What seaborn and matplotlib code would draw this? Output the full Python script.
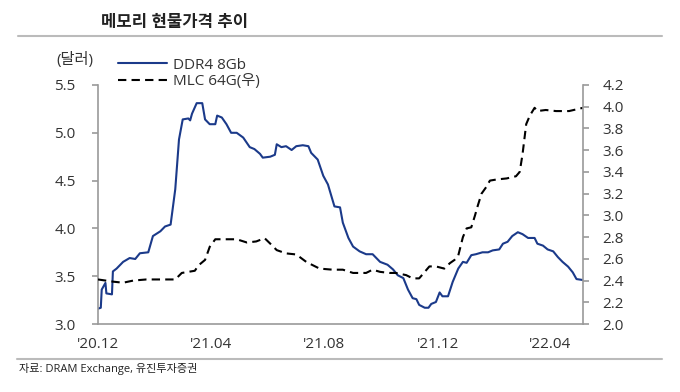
import pandas as pd
import seaborn as sns
import matplotlib.pyplot as plt
from matplotlib.lines import Line2D

# data (days counted from 2020-12-01)
start = "2020-12-01"
ddr4_days = [0, 3, 4, 8, 9, 15, 16, 20, 27, 34, 40, 45, 54, 59, 67, 72, 78, 83, 87, 91,
             97, 99, 101, 106, 112, 115, 120, 126, 128, 133, 138, 143, 149, 156, 163, 168,
             174, 177, 185, 190, 192, 197, 202, 208, 213, 220, 226, 229, 236, 242, 247,
             254, 260, 263, 269, 274, 281, 288, 295, 303, 311, 317, 322, 328, 333, 338,
             342, 345, 351, 355, 358, 363, 367, 370, 376, 381, 387, 392, 396, 401, 406,
             413, 419, 424, 431, 435, 440, 445, 451, 456, 462, 469, 472, 478, 483, 489,
             494, 499, 505, 510, 514, 521]
ddr4 = [3.16, 3.17, 3.36, 3.43, 3.32, 3.31, 3.55, 3.58, 3.65, 3.69, 3.68, 3.74, 3.75, 3.92,
        3.97, 4.02, 4.04, 4.41, 4.93, 5.14, 5.15, 5.13, 5.20, 5.31, 5.31, 5.14, 5.09, 5.09,
        5.18, 5.16, 5.09, 5.00, 5.00, 4.95, 4.85, 4.83, 4.78, 4.74, 4.75, 4.77, 4.88, 4.85,
        4.86, 4.82, 4.86, 4.87, 4.86, 4.79, 4.72, 4.55, 4.46, 4.23, 4.22, 4.06, 3.90, 3.81,
        3.76, 3.73, 3.73, 3.65, 3.62, 3.57, 3.51, 3.48, 3.36, 3.27, 3.26, 3.20, 3.17, 3.17,
        3.21, 3.23, 3.33, 3.29, 3.29, 3.44, 3.58, 3.65, 3.64, 3.72, 3.73, 3.75, 3.75, 3.77,
        3.78, 3.84, 3.86, 3.92, 3.96, 3.94, 3.90, 3.90, 3.84, 3.82, 3.78, 3.76, 3.70, 3.65,
        3.60, 3.54, 3.47, 3.46]

mlc_days = [0, 16, 27, 38, 52, 74, 83, 90, 104, 108, 115, 120, 126, 140, 149, 160, 170,
            179, 185, 192, 202, 213, 224, 238, 252, 263, 274, 288, 295, 303, 313, 320, 331,
            338, 345, 351, 356, 363, 372, 378, 383, 387, 392, 396, 401, 405, 408, 412, 417,
            421, 428, 439, 449, 453, 456, 460, 464, 469, 472, 481, 492, 506, 521]
mlc = [2.41, 2.39, 2.38, 2.40, 2.41, 2.41, 2.41, 2.47, 2.49, 2.54, 2.59, 2.71, 2.78, 2.78,
       2.78, 2.75, 2.76, 2.79, 2.74, 2.68, 2.65, 2.64, 2.57, 2.51, 2.50, 2.50, 2.47, 2.47,
       2.50, 2.48, 2.47, 2.47, 2.45, 2.42, 2.42, 2.48, 2.53, 2.53, 2.51, 2.56, 2.59, 2.63,
       2.80, 2.88, 2.89, 3.00, 3.09, 3.20, 3.26, 3.32, 3.33, 3.34, 3.36, 3.40, 3.56, 3.84,
       3.92, 3.99, 3.96, 3.97, 3.96, 3.96, 3.99]

tick_dates = ["2020-12-01", "2021-04-01", "2021-08-01", "2021-12-01", "2022-04-01"]
tick_labels = ["'20.12", "'21.04", "'21.08", "'21.12", "'22.04"]

t0 = pd.Timestamp(start)
ddr4_df = pd.DataFrame({"date": t0 + pd.to_timedelta(ddr4_days, unit="D"), "price": ddr4})
mlc_df = pd.DataFrame({"date": t0 + pd.to_timedelta(mlc_days, unit="D"), "price": mlc})

sns.set_style("white")
plt.rcParams["font.family"] = ["Open Sans", "Noto Sans CJK KR", "DejaVu Sans"]

navy = "#1b3a8a"
grey = "#9a9a9a"
txt = "#333333"

fig = plt.figure(figsize=(6.8, 3.92), dpi=100)
ax = fig.add_axes([98 / 680, 68 / 392, 485 / 680, 239 / 392])
ax2 = ax.twinx()

sns.lineplot(data=ddr4_df, x="date", y="price", ax=ax, color=navy, linewidth=1.5)
sns.lineplot(data=mlc_df, x="date", y="price", ax=ax2, color="black", linewidth=1.5,
             linestyle="--")
for ln in ax2.get_lines():
    ln.set_dashes([4, 2.5])

ax.set_xlim(t0, t0 + pd.Timedelta(days=521))
ax.set_ylim(3.0, 5.5)
ax2.set_ylim(2.0, 4.2)
ax.set_yticks([3.0, 3.5, 4.0, 4.5, 5.0, 5.5])
ax2.set_yticks([2.0 + 0.2 * i for i in range(12)])
ax.yaxis.set_major_formatter(plt.FormatStrFormatter("%.1f"))
ax2.yaxis.set_major_formatter(plt.FormatStrFormatter("%.1f"))
ax.set_xticks(pd.to_datetime(tick_dates))
ax.set_xticklabels(tick_labels)
ax.set_xlabel("")
ax.set_ylabel("")
ax2.set_ylabel("")

for a in (ax, ax2):
    a.spines["top"].set_visible(False)
    for s in a.spines.values():
        s.set_color(grey)
        s.set_linewidth(1.2)
    a.tick_params(colors=grey, labelcolor=txt, labelsize=11, length=4, width=1.2,
                  direction="out")
ax.spines["right"].set_visible(False)
ax2.spines["left"].set_visible(False)
ax2.spines["bottom"].set_visible(False)
ax.tick_params(axis="y", pad=12)
ax.tick_params(axis="x", pad=5)
ax2.tick_params(axis="y", pad=10)

# legend
handles = [Line2D([], [], color=navy, lw=1.5),
           Line2D([], [], color="black", lw=1.5, dashes=[4, 2.5])]
fig.legend(handles, ["DDR4 8Gb", "MLC 64G(우)"], loc="upper left",
           bbox_to_anchor=(104 / 680, 1 - 44 / 392), frameon=False, fontsize=11,
           handlelength=3.2, handletextpad=0.4, labelspacing=0.1, labelcolor=txt)

fig.text(56 / 680, 1 - 60 / 392, "(달러)", fontsize=11, color=txt, va="center")

# title and frame lines
fig.text(175 / 680, 1 - 22 / 392, "메모리 현물가격 추이", fontsize=12, weight="bold",
         color="#222222", ha="center", va="center")
fig.add_artist(Line2D([18 / 680, 662 / 680], [1 - 35.5 / 392] * 2, color="#bbbbbb", lw=1.5))
fig.add_artist(Line2D([17 / 680, 662 / 680], [1 - 359 / 392] * 2, color="#bbbbbb", lw=1.5))
fig.text(19 / 680, 1 - 369 / 392, "자료: DRAM Exchange, 유진투자증권", fontsize=8,
         color="#222222", va="center")

fig.savefig("out.png", dpi=100)
